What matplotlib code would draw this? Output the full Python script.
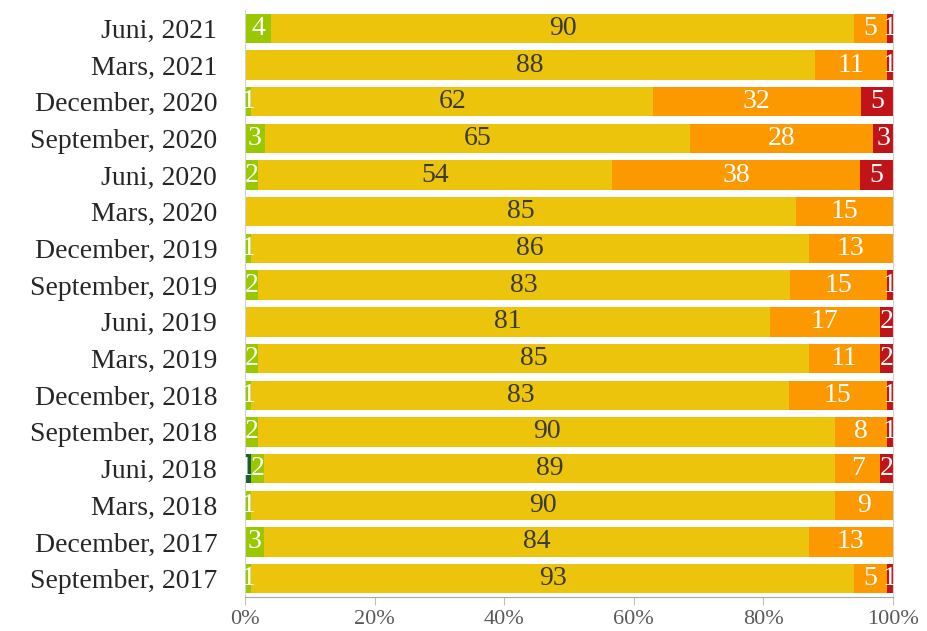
import numpy as np
import matplotlib.pyplot as plt

# Categories, top to bottom
CATEGORIES = ['Juni, 2021', 'Mars, 2021', 'December, 2020', 'September, 2020',
              'Juni, 2020', 'Mars, 2020', 'December, 2019', 'September, 2019',
              'Juni, 2019', 'Mars, 2019', 'December, 2018', 'September, 2018',
              'Juni, 2018', 'Mars, 2018', 'December, 2017', 'September, 2017']

DARK_GREEN = [0, 0, 0, 0, 0, 0, 0, 0, 0, 0, 0, 0, 1, 0, 0, 0]
LIGHT_GREEN = [4, 0, 1, 3, 2, 0, 1, 2, 0, 2, 1, 2, 2, 1, 3, 1]
YELLOW = [90, 88, 62, 65, 54, 85, 86, 83, 81, 85, 83, 90, 89, 90, 84, 93]
ORANGE = [5, 11, 32, 28, 38, 15, 13, 15, 17, 11, 15, 8, 7, 9, 13, 5]
RED = [1, 1, 5, 3, 5, 0, 0, 1, 2, 2, 1, 1, 2, 0, 0, 1]

SERIES = [DARK_GREEN, LIGHT_GREEN, YELLOW, ORANGE, RED]
COLORS = ['#1e5e34', '#99c800', '#edc40c', '#fc9800', '#c01418']
TEXT_COLORS = ['white', 'white', '#3a3a3a', 'white', 'white']

XTICKS = [0, 20, 40, 60, 80, 100]

plt.rcParams['font.family'] = ['Liberation Serif', 'DejaVu Serif']

fig = plt.figure(figsize=(9.28, 6.31), dpi=100)
ax = fig.add_axes([245 / 928, 34 / 631, 648 / 928, 587 / 631])

data = np.array(SERIES, dtype=float)
totals = data.sum(axis=0)
pct = data / totals * 100
y = np.arange(len(CATEGORIES))
left = np.zeros(len(CATEGORIES))

for k, (vals, raw, col, tcol) in enumerate(zip(pct, data, COLORS, TEXT_COLORS)):
    ax.barh(y, vals, left=left, height=0.8, color=col, edgecolor='none')
    for i in range(len(CATEGORIES)):
        if raw[i] > 0:
            xpos = left[i] + vals[i] / 2
            if k == 0:
                xpos -= 0.4  # tiny dark-green segment, nudge left
            ax.text(xpos, y[i], f'{int(raw[i])}',
                    ha='center', va='center', fontsize=20, color=tcol)
    left += vals

ax.set_ylim(len(CATEGORIES) - 0.5, -0.5)
ax.set_xlim(0, 100)
ax.set_yticks(y)
ax.set_yticklabels(CATEGORIES, fontsize=20, color='#262626')
ax.set_xticks(XTICKS)
ax.set_xticklabels([f'{t}%' for t in XTICKS], fontsize=16, color='#595959')
ax.tick_params(axis='y', length=0, pad=20)
ax.tick_params(axis='x', length=6, color='#bfbfbf', pad=3)

for s in ['left', 'right', 'bottom']:
    ax.spines[s].set_color('#d0d0d0')
ax.spines['top'].set_visible(False)
ax.spines['bottom'].set_color('#a6a6a6')

fig.savefig('out.png', dpi=100)
